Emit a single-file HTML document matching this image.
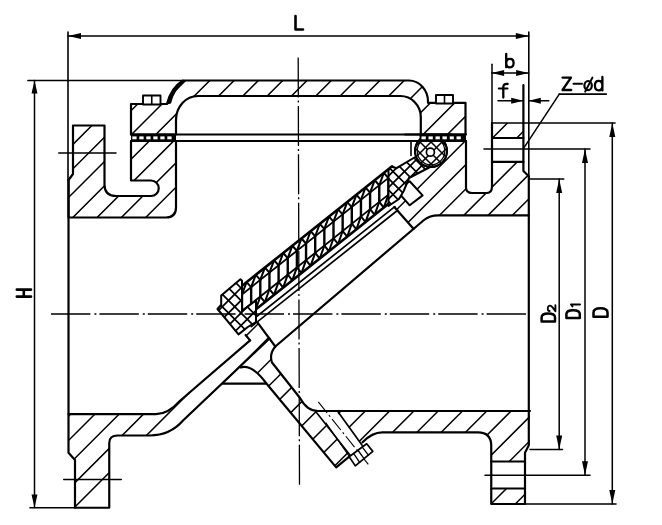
<!DOCTYPE html>
<html><head><meta charset="utf-8"><style>html,body{margin:0;padding:0;background:#fff;}svg{display:block;}</style></head>
<body><svg width="662" height="525" viewBox="0 0 662 525" stroke="#000" fill="none" stroke-linecap="round" stroke-linejoin="round">
<rect width="662" height="525" fill="#fff" stroke="none"/>
<clipPath id="c1"><path d="M73,125.5 L104.5,125.5 L104.5,184.5 Q104.5,196 116,196 L151,196 A7.75,7.75 0 0 0 151,180.5 L131,180.5 L131,141 L176,141 L176,207.5 Q176,217.5 166,217.5 L68.5,217.5 L68.5,180 L73,174 Z"/></clipPath>
<g clip-path="url(#c1)">
<line x1="-80.50" y1="225.00" x2="29.50" y2="115.00" stroke-width="1.5" />
<line x1="-56.20" y1="225.00" x2="53.80" y2="115.00" stroke-width="1.5" />
<line x1="-31.90" y1="225.00" x2="78.10" y2="115.00" stroke-width="1.5" />
<line x1="-7.60" y1="225.00" x2="102.40" y2="115.00" stroke-width="1.5" />
<line x1="16.70" y1="225.00" x2="126.70" y2="115.00" stroke-width="1.5" />
<line x1="41.00" y1="225.00" x2="151.00" y2="115.00" stroke-width="1.5" />
<line x1="65.30" y1="225.00" x2="175.30" y2="115.00" stroke-width="1.5" />
<line x1="89.60" y1="225.00" x2="199.60" y2="115.00" stroke-width="1.5" />
<line x1="113.90" y1="225.00" x2="223.90" y2="115.00" stroke-width="1.5" />
<line x1="138.20" y1="225.00" x2="248.20" y2="115.00" stroke-width="1.5" />
<line x1="162.50" y1="225.00" x2="272.50" y2="115.00" stroke-width="1.5" />
<line x1="186.80" y1="225.00" x2="296.80" y2="115.00" stroke-width="1.5" />
<line x1="211.10" y1="225.00" x2="321.10" y2="115.00" stroke-width="1.5" />
</g>
<path d="M73,125.5 L104.5,125.5 L104.5,184.5 Q104.5,196 116,196 L151,196 A7.75,7.75 0 0 0 151,180.5 L131,180.5 L131,141 L176,141 L176,207.5 Q176,217.5 166,217.5 L68.5,217.5 L68.5,180 L73,174 Z" stroke-width="2.2" fill="none" />
<clipPath id="c2"><path d="M131,134.5 L131,104 L167,104 Q171,88 183,80.5 L409,80.5 A19,21 0 0 1 428,101.5 L428,102.8 L465.5,102.8 L465.5,134.5 L420.8,134.5 L420.8,117 A20.5,21 0 0 0 400.3,96 L198,96 A22,24 0 0 0 176,120 L176,134.5 Z"/></clipPath>
<g clip-path="url(#c2)">
<line x1="23.80" y1="145.00" x2="98.80" y2="70.00" stroke-width="1.5" />
<line x1="48.10" y1="145.00" x2="123.10" y2="70.00" stroke-width="1.5" />
<line x1="72.40" y1="145.00" x2="147.40" y2="70.00" stroke-width="1.5" />
<line x1="96.70" y1="145.00" x2="171.70" y2="70.00" stroke-width="1.5" />
<line x1="121.00" y1="145.00" x2="196.00" y2="70.00" stroke-width="1.5" />
<line x1="145.30" y1="145.00" x2="220.30" y2="70.00" stroke-width="1.5" />
<line x1="169.60" y1="145.00" x2="244.60" y2="70.00" stroke-width="1.5" />
<line x1="193.90" y1="145.00" x2="268.90" y2="70.00" stroke-width="1.5" />
<line x1="218.20" y1="145.00" x2="293.20" y2="70.00" stroke-width="1.5" />
<line x1="242.50" y1="145.00" x2="317.50" y2="70.00" stroke-width="1.5" />
<line x1="266.80" y1="145.00" x2="341.80" y2="70.00" stroke-width="1.5" />
<line x1="291.10" y1="145.00" x2="366.10" y2="70.00" stroke-width="1.5" />
<line x1="315.40" y1="145.00" x2="390.40" y2="70.00" stroke-width="1.5" />
<line x1="339.70" y1="145.00" x2="414.70" y2="70.00" stroke-width="1.5" />
<line x1="364.00" y1="145.00" x2="439.00" y2="70.00" stroke-width="1.5" />
<line x1="388.30" y1="145.00" x2="463.30" y2="70.00" stroke-width="1.5" />
<line x1="412.60" y1="145.00" x2="487.60" y2="70.00" stroke-width="1.5" />
<line x1="436.90" y1="145.00" x2="511.90" y2="70.00" stroke-width="1.5" />
<line x1="461.20" y1="145.00" x2="536.20" y2="70.00" stroke-width="1.5" />
<line x1="485.50" y1="145.00" x2="560.50" y2="70.00" stroke-width="1.5" />
<line x1="509.80" y1="145.00" x2="584.80" y2="70.00" stroke-width="1.5" />
</g>
<path d="M131,134.5 L131,104 L167,104 Q171,88 183,80.5 L409,80.5 A19,21 0 0 1 428,101.5 L428,102.8 L465.5,102.8 L465.5,134.5 L420.8,134.5 L420.8,117 A20.5,21 0 0 0 400.3,96 L198,96 A22,24 0 0 0 176,120 L176,134.5 Z" stroke-width="2.2" fill="none" />
<path d="M167,104 Q171,88 183,80.5 L185,80.8 Q174,89 170.5,103 Z" fill="#000" stroke-width="1.2"/>
<rect x="143" y="95.5" width="17.5" height="9" fill="#fff" stroke-width="1.9"/>
<line x1="151.75" y1="95.50" x2="151.75" y2="104.50" stroke-width="1.6" />
<rect x="436" y="95" width="17" height="8.5" fill="#fff" stroke-width="1.9"/>
<line x1="444.50" y1="95.00" x2="444.50" y2="103.50" stroke-width="1.6" />
<rect x="131" y="134.5" width="45" height="6.5" fill="#000" stroke="none"/>
<rect x="421" y="134.5" width="45" height="6.5" fill="#000" stroke="none"/>
<line x1="131.00" y1="134.50" x2="466.00" y2="134.50" stroke-width="2.0" />
<line x1="131.00" y1="141.00" x2="466.00" y2="141.00" stroke-width="2.0" />
<rect x="132.30" y="136.4" width="4.3" height="2.9" fill="#fff" stroke="none"/>
<rect x="139.30" y="136.4" width="4.3" height="2.9" fill="#fff" stroke="none"/>
<rect x="146.30" y="136.4" width="4.3" height="2.9" fill="#fff" stroke="none"/>
<rect x="153.30" y="136.4" width="4.3" height="2.9" fill="#fff" stroke="none"/>
<rect x="160.30" y="136.4" width="4.3" height="2.9" fill="#fff" stroke="none"/>
<rect x="167.30" y="136.4" width="4.3" height="2.9" fill="#fff" stroke="none"/>
<rect x="421.50" y="136.4" width="4.3" height="2.9" fill="#fff" stroke="none"/>
<rect x="428.50" y="136.4" width="4.3" height="2.9" fill="#fff" stroke="none"/>
<rect x="435.50" y="136.4" width="4.3" height="2.9" fill="#fff" stroke="none"/>
<rect x="442.50" y="136.4" width="4.3" height="2.9" fill="#fff" stroke="none"/>
<rect x="449.50" y="136.4" width="4.3" height="2.9" fill="#fff" stroke="none"/>
<rect x="456.50" y="136.4" width="4.3" height="2.9" fill="#fff" stroke="none"/>
<clipPath id="c3"><path d="M446,141 L466,141 L466,187.5 Q466,193 472,193 L487,193 Q492,193 492,186 L492,161.8 L523.4,161.8 L523.4,171 L528.8,176.3 L528.8,215.3 L438,215.3 Q430,215.3 424,220 L413.7,228.9 L394.3,207.1 L420,170 Z"/></clipPath>
<g clip-path="url(#c3)">
<line x1="244.70" y1="240.00" x2="354.70" y2="130.00" stroke-width="1.5" />
<line x1="269.00" y1="240.00" x2="379.00" y2="130.00" stroke-width="1.5" />
<line x1="293.30" y1="240.00" x2="403.30" y2="130.00" stroke-width="1.5" />
<line x1="317.60" y1="240.00" x2="427.60" y2="130.00" stroke-width="1.5" />
<line x1="341.90" y1="240.00" x2="451.90" y2="130.00" stroke-width="1.5" />
<line x1="366.20" y1="240.00" x2="476.20" y2="130.00" stroke-width="1.5" />
<line x1="390.50" y1="240.00" x2="500.50" y2="130.00" stroke-width="1.5" />
<line x1="414.80" y1="240.00" x2="524.80" y2="130.00" stroke-width="1.5" />
<line x1="439.10" y1="240.00" x2="549.10" y2="130.00" stroke-width="1.5" />
<line x1="463.40" y1="240.00" x2="573.40" y2="130.00" stroke-width="1.5" />
<line x1="487.70" y1="240.00" x2="597.70" y2="130.00" stroke-width="1.5" />
<line x1="512.00" y1="240.00" x2="622.00" y2="130.00" stroke-width="1.5" />
<line x1="536.30" y1="240.00" x2="646.30" y2="130.00" stroke-width="1.5" />
<line x1="560.60" y1="240.00" x2="670.60" y2="130.00" stroke-width="1.5" />
</g>
<clipPath id="c4"><path d="M492,123 L523.4,123 L523.4,138 L492,138 Z"/></clipPath>
<g clip-path="url(#c4)">
<line x1="410.60" y1="147.00" x2="444.60" y2="113.00" stroke-width="1.5" />
<line x1="434.90" y1="147.00" x2="468.90" y2="113.00" stroke-width="1.5" />
<line x1="459.20" y1="147.00" x2="493.20" y2="113.00" stroke-width="1.5" />
<line x1="483.50" y1="147.00" x2="517.50" y2="113.00" stroke-width="1.5" />
<line x1="507.80" y1="147.00" x2="541.80" y2="113.00" stroke-width="1.5" />
<line x1="532.10" y1="147.00" x2="566.10" y2="113.00" stroke-width="1.5" />
<line x1="556.40" y1="147.00" x2="590.40" y2="113.00" stroke-width="1.5" />
</g>
<clipPath id="c5"><path d="M69,414.2 L155.9,414.2 Q168,414.2 180.3,400.5 L250.1,340.4 L245.6,335 L257.8,322.9 L275.3,346.5 Q269,354 272,362.5 L300,398 Q307,411 318,411 L530,411 L530,445.3 L525,452.7 L525,461.5 L491.25,461.5 L491.25,446 Q491.25,432.3 478,432.3 L382.3,432.3 Q372,432.3 362.5,442.3 L349.2,456.7 L336.2,467.4 L266,383 Q252,364 240.6,367.4 L183.3,420.3 Q170,435.5 149.8,435.5 L117.5,435.5 Q109.25,435.5 109.25,443 L109.25,495 L96,507.75 L75,507.75 L75,460 L69,452.75 Z"/></clipPath>
<g clip-path="url(#c5)">
<line x1="-178.10" y1="517.00" x2="25.90" y2="313.00" stroke-width="1.5" />
<line x1="-153.80" y1="517.00" x2="50.20" y2="313.00" stroke-width="1.5" />
<line x1="-129.50" y1="517.00" x2="74.50" y2="313.00" stroke-width="1.5" />
<line x1="-105.20" y1="517.00" x2="98.80" y2="313.00" stroke-width="1.5" />
<line x1="-80.90" y1="517.00" x2="123.10" y2="313.00" stroke-width="1.5" />
<line x1="-56.60" y1="517.00" x2="147.40" y2="313.00" stroke-width="1.5" />
<line x1="-32.30" y1="517.00" x2="171.70" y2="313.00" stroke-width="1.5" />
<line x1="-8.00" y1="517.00" x2="196.00" y2="313.00" stroke-width="1.5" />
<line x1="16.30" y1="517.00" x2="220.30" y2="313.00" stroke-width="1.5" />
<line x1="40.60" y1="517.00" x2="244.60" y2="313.00" stroke-width="1.5" />
<line x1="64.90" y1="517.00" x2="268.90" y2="313.00" stroke-width="1.5" />
<line x1="89.20" y1="517.00" x2="293.20" y2="313.00" stroke-width="1.5" />
<line x1="113.50" y1="517.00" x2="317.50" y2="313.00" stroke-width="1.5" />
<line x1="137.80" y1="517.00" x2="341.80" y2="313.00" stroke-width="1.5" />
<line x1="162.10" y1="517.00" x2="366.10" y2="313.00" stroke-width="1.5" />
<line x1="186.40" y1="517.00" x2="390.40" y2="313.00" stroke-width="1.5" />
<line x1="210.70" y1="517.00" x2="414.70" y2="313.00" stroke-width="1.5" />
<line x1="235.00" y1="517.00" x2="439.00" y2="313.00" stroke-width="1.5" />
<line x1="259.30" y1="517.00" x2="463.30" y2="313.00" stroke-width="1.5" />
<line x1="283.60" y1="517.00" x2="487.60" y2="313.00" stroke-width="1.5" />
<line x1="307.90" y1="517.00" x2="511.90" y2="313.00" stroke-width="1.5" />
<line x1="332.20" y1="517.00" x2="536.20" y2="313.00" stroke-width="1.5" />
<line x1="356.50" y1="517.00" x2="560.50" y2="313.00" stroke-width="1.5" />
<line x1="380.80" y1="517.00" x2="584.80" y2="313.00" stroke-width="1.5" />
<line x1="405.10" y1="517.00" x2="609.10" y2="313.00" stroke-width="1.5" />
<line x1="429.40" y1="517.00" x2="633.40" y2="313.00" stroke-width="1.5" />
<line x1="453.70" y1="517.00" x2="657.70" y2="313.00" stroke-width="1.5" />
<line x1="478.00" y1="517.00" x2="682.00" y2="313.00" stroke-width="1.5" />
<line x1="502.30" y1="517.00" x2="706.30" y2="313.00" stroke-width="1.5" />
<line x1="526.60" y1="517.00" x2="730.60" y2="313.00" stroke-width="1.5" />
<line x1="550.90" y1="517.00" x2="754.90" y2="313.00" stroke-width="1.5" />
<line x1="575.20" y1="517.00" x2="779.20" y2="313.00" stroke-width="1.5" />
</g>
<clipPath id="c6"><path d="M491.25,488.5 L525,488.5 L525,504 L491.25,504 Z"/></clipPath>
<g clip-path="url(#c6)">
<line x1="433.40" y1="513.00" x2="466.40" y2="480.00" stroke-width="1.5" />
<line x1="457.70" y1="513.00" x2="490.70" y2="480.00" stroke-width="1.5" />
<line x1="482.00" y1="513.00" x2="515.00" y2="480.00" stroke-width="1.5" />
<line x1="506.30" y1="513.00" x2="539.30" y2="480.00" stroke-width="1.5" />
<line x1="530.60" y1="513.00" x2="563.60" y2="480.00" stroke-width="1.5" />
<line x1="554.90" y1="513.00" x2="587.90" y2="480.00" stroke-width="1.5" />
</g>
<line x1="68.00" y1="32.00" x2="68.00" y2="180.00" stroke-width="1.6" />
<path d="M68.5,180 L68.5,452.75 L75,460 L75,507.75 L109.25,507.75 L109.25,443 Q109.25,435.5 117.5,435.5 L149.8,435.5 Q170,435.5 183.3,420.3 L269.5,338.5" stroke-width="2.2" fill="none" />
<path d="M240.6,367.4 Q252,364 266,383 L336.2,467.4 L349.2,456.7" stroke-width="2.2" fill="none" />
<line x1="223.10" y1="383.70" x2="266.00" y2="383.70" stroke-width="2.2" />
<path d="M68.5,414.2 L155.9,414.2 Q168,414.2 180.3,400.5 L250.1,340.4" stroke-width="2.2" fill="none" />
<path d="M466,141 L466,187.5 Q466,193 472,193 L487,193 Q492,193 492,186 L492,123" stroke-width="2.2" fill="none" />
<line x1="492.00" y1="123.00" x2="492.00" y2="64.30" stroke-width="1.5" />
<line x1="492.00" y1="138.00" x2="523.40" y2="138.00" stroke-width="2.2" />
<line x1="492.00" y1="161.80" x2="523.40" y2="161.80" stroke-width="2.2" />
<line x1="492.00" y1="123.00" x2="615.00" y2="123.00" stroke-width="1.6" />
<path d="M523.4,85 L523.4,171 L528.8,176.3" stroke-width="2.2" fill="none" />
<line x1="528.80" y1="32.00" x2="528.80" y2="176.30" stroke-width="1.6" />
<path d="M528.8,176.3 L528.8,445.3 L525,452.7 L525,504" stroke-width="2.2" fill="none" />
<path d="M528.8,215.3 L438,215.3 Q430,215.3 424,220 L275.3,346.5" stroke-width="2.2" fill="none" />
<path d="M530,411 L318,411 Q307,411 300,398 L272,362.5 Q269,354 275.3,346.5" stroke-width="2.2" fill="none" />
<line x1="257.80" y1="322.90" x2="275.30" y2="346.50" stroke-width="2.2" />
<line x1="394.30" y1="207.10" x2="413.70" y2="228.90" stroke-width="2.2" />
<path d="M250.1,340.4 L245.6,335" stroke-width="2.2" fill="none" />
<path d="M362.5,442.3 Q372,432.3 382.3,432.3 L478,432.3 Q491.25,432.3 491.25,446 L491.25,504 L525,504" stroke-width="2.2" fill="none" />
<line x1="491.25" y1="461.50" x2="525.00" y2="461.50" stroke-width="2.2" />
<line x1="491.25" y1="488.50" x2="525.00" y2="488.50" stroke-width="2.2" />
<line x1="525.00" y1="504.00" x2="616.00" y2="504.00" stroke-width="1.6" />
<path d="M-110,31.4 L77,31.4" transform="translate(315.0,230.0) rotate(-38.5)" stroke-width="1.7" fill="none"/>
<path d="M-110,36.0 L77,36.0" transform="translate(315.0,230.0) rotate(-38.5)" stroke-width="1.7" fill="none"/>
<path d="M-115,-1.8 L100,-1.8 L100,25.3 L-115,25.3 Z" transform="translate(315.0,230.0) rotate(-38.5)" stroke-width="0.1" fill="#fff"/>
<clipPath id="c7"><path d="M-115,-1.8 L100,-1.8 L100,25.3 L-115,25.3 Z" transform="translate(315.0,230.0) rotate(-38.5)"/></clipPath>
<g clip-path="url(#c7)">
<line x1="232.85" y1="301.73" x2="232.85" y2="318.35" stroke-width="2.4" />
<line x1="242.00" y1="294.46" x2="242.00" y2="311.07" stroke-width="2.4" />
<line x1="251.15" y1="287.18" x2="251.15" y2="303.79" stroke-width="2.4" />
<line x1="260.30" y1="279.90" x2="260.30" y2="296.51" stroke-width="2.4" />
<line x1="269.45" y1="272.62" x2="269.45" y2="289.23" stroke-width="2.4" />
<line x1="278.60" y1="265.34" x2="278.60" y2="281.95" stroke-width="2.4" />
<line x1="287.75" y1="258.06" x2="287.75" y2="274.68" stroke-width="2.4" />
<line x1="296.90" y1="250.79" x2="296.90" y2="267.40" stroke-width="2.4" />
<line x1="306.05" y1="243.51" x2="306.05" y2="260.12" stroke-width="2.4" />
<line x1="315.20" y1="236.23" x2="315.20" y2="252.84" stroke-width="2.4" />
<line x1="324.35" y1="228.95" x2="324.35" y2="245.56" stroke-width="2.4" />
<line x1="333.50" y1="221.67" x2="333.50" y2="238.28" stroke-width="2.4" />
<line x1="342.65" y1="214.40" x2="342.65" y2="231.01" stroke-width="2.4" />
<line x1="351.80" y1="207.12" x2="351.80" y2="223.73" stroke-width="2.4" />
<line x1="360.95" y1="199.84" x2="360.95" y2="216.45" stroke-width="2.4" />
<line x1="370.10" y1="192.56" x2="370.10" y2="209.17" stroke-width="2.4" />
<line x1="379.25" y1="185.28" x2="379.25" y2="201.89" stroke-width="2.4" />
<line x1="388.40" y1="178.00" x2="388.40" y2="194.62" stroke-width="2.4" />
<line x1="397.55" y1="170.73" x2="397.55" y2="187.34" stroke-width="2.4" />
<path d="M232.85,301.73 L237.43,289.41 L242.00,294.46" stroke-width="2.0" fill="none" />
<path d="M232.85,318.35 L237.43,324.03 L242.00,311.07" stroke-width="2.0" fill="none" />
<path d="M242.00,294.46 L246.57,282.13 L251.15,287.18" stroke-width="2.0" fill="none" />
<path d="M242.00,311.07 L246.57,316.76 L251.15,303.79" stroke-width="2.0" fill="none" />
<path d="M251.15,287.18 L255.73,274.85 L260.30,279.90" stroke-width="2.0" fill="none" />
<path d="M251.15,303.79 L255.73,309.48 L260.30,296.51" stroke-width="2.0" fill="none" />
<path d="M260.30,279.90 L264.88,267.57 L269.45,272.62" stroke-width="2.0" fill="none" />
<path d="M260.30,296.51 L264.88,302.20 L269.45,289.23" stroke-width="2.0" fill="none" />
<path d="M269.45,272.62 L274.02,260.29 L278.60,265.34" stroke-width="2.0" fill="none" />
<path d="M269.45,289.23 L274.02,294.92 L278.60,281.95" stroke-width="2.0" fill="none" />
<path d="M278.60,265.34 L283.18,253.01 L287.75,258.06" stroke-width="2.0" fill="none" />
<path d="M278.60,281.95 L283.18,287.64 L287.75,274.68" stroke-width="2.0" fill="none" />
<path d="M287.75,258.06 L292.32,245.74 L296.90,250.79" stroke-width="2.0" fill="none" />
<path d="M287.75,274.68 L292.32,280.36 L296.90,267.40" stroke-width="2.0" fill="none" />
<path d="M296.90,250.79 L301.48,238.46 L306.05,243.51" stroke-width="2.0" fill="none" />
<path d="M296.90,267.40 L301.48,273.09 L306.05,260.12" stroke-width="2.0" fill="none" />
<path d="M306.05,243.51 L310.62,231.18 L315.20,236.23" stroke-width="2.0" fill="none" />
<path d="M306.05,260.12 L310.62,265.81 L315.20,252.84" stroke-width="2.0" fill="none" />
<path d="M315.20,236.23 L319.77,223.90 L324.35,228.95" stroke-width="2.0" fill="none" />
<path d="M315.20,252.84 L319.77,258.53 L324.35,245.56" stroke-width="2.0" fill="none" />
<path d="M324.35,228.95 L328.93,216.62 L333.50,221.67" stroke-width="2.0" fill="none" />
<path d="M324.35,245.56 L328.93,251.25 L333.50,238.28" stroke-width="2.0" fill="none" />
<path d="M333.50,221.67 L338.07,209.35 L342.65,214.40" stroke-width="2.0" fill="none" />
<path d="M333.50,238.28 L338.07,243.97 L342.65,231.01" stroke-width="2.0" fill="none" />
<path d="M342.65,214.40 L347.23,202.07 L351.80,207.12" stroke-width="2.0" fill="none" />
<path d="M342.65,231.01 L347.23,236.69 L351.80,223.73" stroke-width="2.0" fill="none" />
<path d="M351.80,207.12 L356.38,194.79 L360.95,199.84" stroke-width="2.0" fill="none" />
<path d="M351.80,223.73 L356.38,229.42 L360.95,216.45" stroke-width="2.0" fill="none" />
<path d="M360.95,199.84 L365.52,187.51 L370.10,192.56" stroke-width="2.0" fill="none" />
<path d="M360.95,216.45 L365.52,222.14 L370.10,209.17" stroke-width="2.0" fill="none" />
<path d="M370.10,192.56 L374.68,180.23 L379.25,185.28" stroke-width="2.0" fill="none" />
<path d="M370.10,209.17 L374.68,214.86 L379.25,201.89" stroke-width="2.0" fill="none" />
<path d="M379.25,185.28 L383.82,172.95 L388.40,178.00" stroke-width="2.0" fill="none" />
<path d="M379.25,201.89 L383.82,207.58 L388.40,194.62" stroke-width="2.0" fill="none" />
<path d="M388.40,178.00 L392.98,165.68 L397.55,170.73" stroke-width="2.0" fill="none" />
<path d="M388.40,194.62 L392.98,200.30 L397.55,187.34" stroke-width="2.0" fill="none" />
</g>
<path d="M-115,5.0 L100,5.0" transform="translate(315.0,230.0) rotate(-38.5)" stroke-width="1.8" fill="none"/>
<path d="M-115,18.0 L100,18.0" transform="translate(315.0,230.0) rotate(-38.5)" stroke-width="1.8" fill="none"/>
<path d="M-115,-1.8 L100,-1.8 M-115,25.3 L100,25.3" transform="translate(315.0,230.0) rotate(-38.5)" stroke-width="2.6" fill="none"/>
<path d="M221.2,295.4 L240.4,279.3 L242,280.7 L242,310.9 L256,300.2 L256,322 L247.8,327 L238.5,334.4 L217.5,309 L221.2,304.7 Z" stroke-width="0.1" fill="#fff" />
<clipPath id="c8"><path d="M221.2,295.4 L240.4,279.3 L242,280.7 L242,310.9 L256,300.2 L256,322 L247.8,327 L238.5,334.4 L217.5,309 L221.2,304.7 Z"/></clipPath>
<g clip-path="url(#c8)">
<line x1="116.50" y1="350.00" x2="201.50" y2="265.00" stroke-width="1.7" />
<line x1="129.00" y1="350.00" x2="214.00" y2="265.00" stroke-width="1.7" />
<line x1="141.50" y1="350.00" x2="226.50" y2="265.00" stroke-width="1.7" />
<line x1="154.00" y1="350.00" x2="239.00" y2="265.00" stroke-width="1.7" />
<line x1="166.50" y1="350.00" x2="251.50" y2="265.00" stroke-width="1.7" />
<line x1="179.00" y1="350.00" x2="264.00" y2="265.00" stroke-width="1.7" />
<line x1="191.50" y1="350.00" x2="276.50" y2="265.00" stroke-width="1.7" />
<line x1="204.00" y1="350.00" x2="289.00" y2="265.00" stroke-width="1.7" />
<line x1="216.50" y1="350.00" x2="301.50" y2="265.00" stroke-width="1.7" />
<line x1="229.00" y1="350.00" x2="314.00" y2="265.00" stroke-width="1.7" />
<line x1="241.50" y1="350.00" x2="326.50" y2="265.00" stroke-width="1.7" />
<line x1="254.00" y1="350.00" x2="339.00" y2="265.00" stroke-width="1.7" />
<line x1="266.50" y1="350.00" x2="351.50" y2="265.00" stroke-width="1.7" />
<line x1="279.00" y1="350.00" x2="364.00" y2="265.00" stroke-width="1.7" />
<line x1="105.50" y1="265.00" x2="190.50" y2="350.00" stroke-width="1.7" />
<line x1="118.00" y1="265.00" x2="203.00" y2="350.00" stroke-width="1.7" />
<line x1="130.50" y1="265.00" x2="215.50" y2="350.00" stroke-width="1.7" />
<line x1="143.00" y1="265.00" x2="228.00" y2="350.00" stroke-width="1.7" />
<line x1="155.50" y1="265.00" x2="240.50" y2="350.00" stroke-width="1.7" />
<line x1="168.00" y1="265.00" x2="253.00" y2="350.00" stroke-width="1.7" />
<line x1="180.50" y1="265.00" x2="265.50" y2="350.00" stroke-width="1.7" />
<line x1="193.00" y1="265.00" x2="278.00" y2="350.00" stroke-width="1.7" />
<line x1="205.50" y1="265.00" x2="290.50" y2="350.00" stroke-width="1.7" />
<line x1="218.00" y1="265.00" x2="303.00" y2="350.00" stroke-width="1.7" />
<line x1="230.50" y1="265.00" x2="315.50" y2="350.00" stroke-width="1.7" />
<line x1="243.00" y1="265.00" x2="328.00" y2="350.00" stroke-width="1.7" />
<line x1="255.50" y1="265.00" x2="340.50" y2="350.00" stroke-width="1.7" />
<line x1="268.00" y1="265.00" x2="353.00" y2="350.00" stroke-width="1.7" />
</g>
<path d="M221.2,295.4 L240.4,279.3 L242,280.7 L242,310.9 L256,300.2 L256,322 L247.8,327 L238.5,334.4 L217.5,309 L221.2,304.7 Z" stroke-width="2.0" fill="none" />
<path d="M409.7,181.3 L422.6,195.4 L409.7,205.3 L397,191 Z" stroke-width="2.0" fill="#fff" />
<path d="M388.5,206 L388.5,170.5 Q389.5,166.5 393,167 L396.5,168.2 L417,156 L433,165.5 L409,178 L403.7,191 L399,199 Z" stroke-width="0.1" fill="#fff" />
<clipPath id="c9"><path d="M388.5,206 L388.5,170.5 Q389.5,166.5 393,167 L396.5,168.2 L417,156 L433,165.5 L409,178 L403.7,191 L399,199 Z"/></clipPath>
<g clip-path="url(#c9)">
<line x1="303.50" y1="215.00" x2="373.50" y2="145.00" stroke-width="1.6" />
<line x1="315.00" y1="215.00" x2="385.00" y2="145.00" stroke-width="1.6" />
<line x1="326.50" y1="215.00" x2="396.50" y2="145.00" stroke-width="1.6" />
<line x1="338.00" y1="215.00" x2="408.00" y2="145.00" stroke-width="1.6" />
<line x1="349.50" y1="215.00" x2="419.50" y2="145.00" stroke-width="1.6" />
<line x1="361.00" y1="215.00" x2="431.00" y2="145.00" stroke-width="1.6" />
<line x1="372.50" y1="215.00" x2="442.50" y2="145.00" stroke-width="1.6" />
<line x1="384.00" y1="215.00" x2="454.00" y2="145.00" stroke-width="1.6" />
<line x1="395.50" y1="215.00" x2="465.50" y2="145.00" stroke-width="1.6" />
<line x1="407.00" y1="215.00" x2="477.00" y2="145.00" stroke-width="1.6" />
<line x1="418.50" y1="215.00" x2="488.50" y2="145.00" stroke-width="1.6" />
<line x1="430.00" y1="215.00" x2="500.00" y2="145.00" stroke-width="1.6" />
<line x1="441.50" y1="215.00" x2="511.50" y2="145.00" stroke-width="1.6" />
<line x1="453.00" y1="215.00" x2="523.00" y2="145.00" stroke-width="1.6" />
<line x1="297.50" y1="145.00" x2="367.50" y2="215.00" stroke-width="1.6" />
<line x1="309.00" y1="145.00" x2="379.00" y2="215.00" stroke-width="1.6" />
<line x1="320.50" y1="145.00" x2="390.50" y2="215.00" stroke-width="1.6" />
<line x1="332.00" y1="145.00" x2="402.00" y2="215.00" stroke-width="1.6" />
<line x1="343.50" y1="145.00" x2="413.50" y2="215.00" stroke-width="1.6" />
<line x1="355.00" y1="145.00" x2="425.00" y2="215.00" stroke-width="1.6" />
<line x1="366.50" y1="145.00" x2="436.50" y2="215.00" stroke-width="1.6" />
<line x1="378.00" y1="145.00" x2="448.00" y2="215.00" stroke-width="1.6" />
<line x1="389.50" y1="145.00" x2="459.50" y2="215.00" stroke-width="1.6" />
<line x1="401.00" y1="145.00" x2="471.00" y2="215.00" stroke-width="1.6" />
<line x1="412.50" y1="145.00" x2="482.50" y2="215.00" stroke-width="1.6" />
<line x1="424.00" y1="145.00" x2="494.00" y2="215.00" stroke-width="1.6" />
<line x1="435.50" y1="145.00" x2="505.50" y2="215.00" stroke-width="1.6" />
<line x1="447.00" y1="145.00" x2="517.00" y2="215.00" stroke-width="1.6" />
</g>
<path d="M388.5,206 L388.5,170.5 Q389.5,166.5 393,167 L396.5,168.2 L417,156 L433,165.5 L409,178 L403.7,191 L399,199 Z" stroke-width="2.0" fill="none" />
<circle cx="431.0" cy="151.0" r="16.0" fill="#fff" stroke-width="1.7"/>
<clipPath id="c10"><path d="M446.5,151.0 A15.5,15.5 0 1 0 415.5,151.0 A15.5,15.5 0 1 0 446.5,151.0 Z"/></clipPath>
<g clip-path="url(#c10)">
<line x1="354.00" y1="175.00" x2="402.00" y2="127.00" stroke-width="1.5" />
<line x1="365.00" y1="175.00" x2="413.00" y2="127.00" stroke-width="1.5" />
<line x1="376.00" y1="175.00" x2="424.00" y2="127.00" stroke-width="1.5" />
<line x1="387.00" y1="175.00" x2="435.00" y2="127.00" stroke-width="1.5" />
<line x1="398.00" y1="175.00" x2="446.00" y2="127.00" stroke-width="1.5" />
<line x1="409.00" y1="175.00" x2="457.00" y2="127.00" stroke-width="1.5" />
<line x1="420.00" y1="175.00" x2="468.00" y2="127.00" stroke-width="1.5" />
<line x1="431.00" y1="175.00" x2="479.00" y2="127.00" stroke-width="1.5" />
<line x1="442.00" y1="175.00" x2="490.00" y2="127.00" stroke-width="1.5" />
<line x1="453.00" y1="175.00" x2="501.00" y2="127.00" stroke-width="1.5" />
<line x1="464.00" y1="175.00" x2="512.00" y2="127.00" stroke-width="1.5" />
<line x1="350.00" y1="127.00" x2="398.00" y2="175.00" stroke-width="1.5" />
<line x1="361.00" y1="127.00" x2="409.00" y2="175.00" stroke-width="1.5" />
<line x1="372.00" y1="127.00" x2="420.00" y2="175.00" stroke-width="1.5" />
<line x1="383.00" y1="127.00" x2="431.00" y2="175.00" stroke-width="1.5" />
<line x1="394.00" y1="127.00" x2="442.00" y2="175.00" stroke-width="1.5" />
<line x1="405.00" y1="127.00" x2="453.00" y2="175.00" stroke-width="1.5" />
<line x1="416.00" y1="127.00" x2="464.00" y2="175.00" stroke-width="1.5" />
<line x1="427.00" y1="127.00" x2="475.00" y2="175.00" stroke-width="1.5" />
<line x1="438.00" y1="127.00" x2="486.00" y2="175.00" stroke-width="1.5" />
<line x1="449.00" y1="127.00" x2="497.00" y2="175.00" stroke-width="1.5" />
<line x1="460.00" y1="127.00" x2="508.00" y2="175.00" stroke-width="1.5" />
</g>
<circle cx="431.0" cy="151.0" r="16.0" stroke-width="2.0"/>
<circle cx="431.0" cy="151.0" r="13.8" stroke-width="1.2"/>
<circle cx="430.4" cy="152.2" r="4.0" fill="#fff" stroke-width="1.7"/>
<rect x="419.5" y="134.5" width="30" height="6.5" fill="#000" stroke="none"/>
<rect x="421.50" y="136.4" width="4.3" height="2.9" fill="#fff" stroke="none"/>
<rect x="428.50" y="136.4" width="4.3" height="2.9" fill="#fff" stroke="none"/>
<rect x="435.50" y="136.4" width="4.3" height="2.9" fill="#fff" stroke="none"/>
<rect x="442.50" y="136.4" width="4.3" height="2.9" fill="#fff" stroke="none"/>
<line x1="405.00" y1="134.50" x2="452.00" y2="134.50" stroke-width="2.0" />
<line x1="405.00" y1="141.00" x2="452.00" y2="141.00" stroke-width="2.0" />
<line x1="411.00" y1="141.00" x2="411.00" y2="155.50" stroke-width="1.6" />
<path d="M315.7,413.3 L350.7,456 L362.1,445.3 L337.8,413.3 Z" fill="#fff" stroke="none"/>
<line x1="315.70" y1="411.50" x2="350.70" y2="456.00" stroke-width="1.7" />
<line x1="337.80" y1="411.50" x2="362.10" y2="445.30" stroke-width="1.7" />
<line x1="326.00" y1="423.00" x2="349.00" y2="456.00" stroke-width="1.3" />
<line x1="318.3" y1="401.9" x2="370.1" y2="466.6" stroke-width="1.1" stroke-dasharray="14 3 2 3" stroke-linecap="butt"/>
<path d="M349.2,456.7 L355.3,465.9 L372.8,451.4 L366.7,443.8 Z" fill="#fff" stroke-width="1.7"/>
<line x1="353.57" y1="453.48" x2="359.68" y2="462.27" stroke-width="1.3" />
<line x1="357.95" y1="450.25" x2="364.05" y2="458.65" stroke-width="1.3" />
<line x1="362.32" y1="447.02" x2="368.43" y2="455.02" stroke-width="1.3" />
<line x1="68.00" y1="36.00" x2="528.80" y2="36.00" stroke-width="1.5" />
<path d="M68.00,36.00 L81.00,33.00 L81.00,39.00 Z" fill="#000" stroke="none"/>
<path d="M528.80,36.00 L515.80,39.00 L515.80,33.00 Z" fill="#000" stroke="none"/>
<line x1="34.50" y1="80.50" x2="34.50" y2="507.50" stroke-width="1.5" />
<path d="M34.50,80.50 L37.50,93.50 L31.50,93.50 Z" fill="#000" stroke="none"/>
<path d="M34.50,507.50 L31.50,494.50 L37.50,494.50 Z" fill="#000" stroke="none"/>
<line x1="28.00" y1="80.50" x2="183.00" y2="80.50" stroke-width="1.7" />
<line x1="30.00" y1="507.75" x2="75.00" y2="507.75" stroke-width="1.6" />
<line x1="491.60" y1="72.90" x2="528.60" y2="72.90" stroke-width="1.5" />
<path d="M491.60,72.90 L504.10,69.90 L504.10,75.90 Z" fill="#000" stroke="none"/>
<path d="M528.60,72.90 L516.10,75.90 L516.10,69.90 Z" fill="#000" stroke="none"/>
<line x1="498.00" y1="100.80" x2="523.20" y2="100.80" stroke-width="1.5" />
<path d="M523.20,100.80 L511.20,103.80 L511.20,97.80 Z" fill="#000" stroke="none"/>
<line x1="528.80" y1="100.80" x2="548.75" y2="100.80" stroke-width="1.5" />
<path d="M528.80,100.80 L540.80,97.80 L540.80,103.80 Z" fill="#000" stroke="none"/>
<line x1="524.20" y1="147.30" x2="559.30" y2="94.10" stroke-width="1.5" />
<line x1="559.30" y1="94.10" x2="606.30" y2="94.10" stroke-width="1.7" />
<line x1="612.30" y1="123.00" x2="612.30" y2="504.00" stroke-width="1.5" />
<path d="M612.30,123.00 L615.30,137.00 L609.30,137.00 Z" fill="#000" stroke="none"/>
<path d="M612.30,504.00 L609.30,490.00 L615.30,490.00 Z" fill="#000" stroke="none"/>
<line x1="585.00" y1="149.00" x2="585.00" y2="475.25" stroke-width="1.5" />
<path d="M585.00,149.00 L588.00,163.00 L582.00,163.00 Z" fill="#000" stroke="none"/>
<path d="M585.00,475.25 L582.00,461.25 L588.00,461.25 Z" fill="#000" stroke="none"/>
<line x1="559.20" y1="178.90" x2="559.20" y2="449.50" stroke-width="1.5" />
<path d="M559.20,178.90 L562.20,192.90 L556.20,192.90 Z" fill="#000" stroke="none"/>
<path d="M559.20,449.50 L556.20,435.50 L562.20,435.50 Z" fill="#000" stroke="none"/>
<line x1="528.80" y1="178.90" x2="563.80" y2="178.90" stroke-width="1.5" />
<line x1="530.00" y1="449.50" x2="562.50" y2="449.50" stroke-width="1.5" />
<line x1="484.00" y1="149.00" x2="590.00" y2="149.00" stroke-width="1.5" />
<line x1="485.00" y1="475.25" x2="590.00" y2="475.25" stroke-width="1.5" />
<line x1="58.75" y1="153.00" x2="116.00" y2="153.00" stroke-width="1.5" />
<line x1="63.75" y1="479.50" x2="121.25" y2="479.50" stroke-width="1.5" />
<line x1="51" y1="314" x2="527" y2="314" stroke-width="1.3" stroke-dasharray="39.4 4 2 3" stroke-linecap="butt"/>
<line x1="298.2" y1="57.5" x2="299.5" y2="485" stroke-width="1.3" stroke-dasharray="40 3 2 3.4" stroke-linecap="butt"/>
<path d="M295.5,16 L295.5,29.5 L303,29.5" stroke-width="2.6" fill="none" />
<path d="M16.8,289.6 L31,289.6 M16.8,296.6 L31,296.6 M23.8,289.6 L23.8,296.6" stroke-width="2.6" fill="none" />
<path d="M506.2,54 L506.2,67.2 M506.2,63 Q506.2,58.8 510,58.8 Q513.6,58.8 513.6,63.1 Q513.6,67.4 510,67.4 Q506.2,67.4 506.2,63" stroke-width="2.3" fill="none" />
<path d="M503.3,97.5 L503.3,87 Q503.3,83.6 507.6,84" stroke-width="2.3" fill="none" />
<path d="M498.8,88.6 L507.5,88.6" stroke-width="2.0" fill="none" />
<path d="M562.5,77.6 L571,77.6 L562.5,90 L571.2,90" stroke-width="2.3" fill="none" />
<path d="M573.5,83.8 L582,83.8" stroke-width="2.0" fill="none" />
<ellipse cx="588.1" cy="85.6" rx="3.7" ry="4.6" stroke-width="2.2"/>
<path d="M592.4,77.6 L585.2,91.6" stroke-width="2.0" fill="none" />
<path d="M602.4,77 L602.4,90.4 M602.4,85.5 Q602.4,80.8 598.6,80.8 Q594.9,80.8 594.9,85.6 Q594.9,90.4 598.6,90.4 Q602.4,90.4 602.4,85.5" stroke-width="2.3" fill="none" />
<path d="M541.6,321.6 L555,321.6 M541.6,321.6 L541.6,317.6 Q541.6,313.6 548.3,313.6 Q555,313.6 555,317.6 L555,321.6" stroke-width="2.5" fill="none" />
<path d="M549.6,311 Q547.6,311.2 547.8,308.4 Q547.9,305.5 550.2,305.6 Q551.6,305.8 552.6,307.4 L555.4,311.2 L555.4,305.2" stroke-width="1.9" fill="none" />
<path d="M566.4,318 L579.8,318 M566.4,318 L566.4,314.1 Q566.4,310.2 573.0999999999999,310.2 Q579.8,310.2 579.8,314.1 L579.8,318" stroke-width="2.5" fill="none" />
<path d="M571,304.5 L580,304.5 M571,304.5 L572.5,306.5" stroke-width="1.9" fill="none" />
<path d="M593.5,316.8 L607.5,316.8 M593.5,316.8 L593.5,312.5 Q593.5,308.2 600.5,308.2 Q607.5,308.2 607.5,312.5 L607.5,316.8" stroke-width="2.5" fill="none" />
</svg></body></html>
